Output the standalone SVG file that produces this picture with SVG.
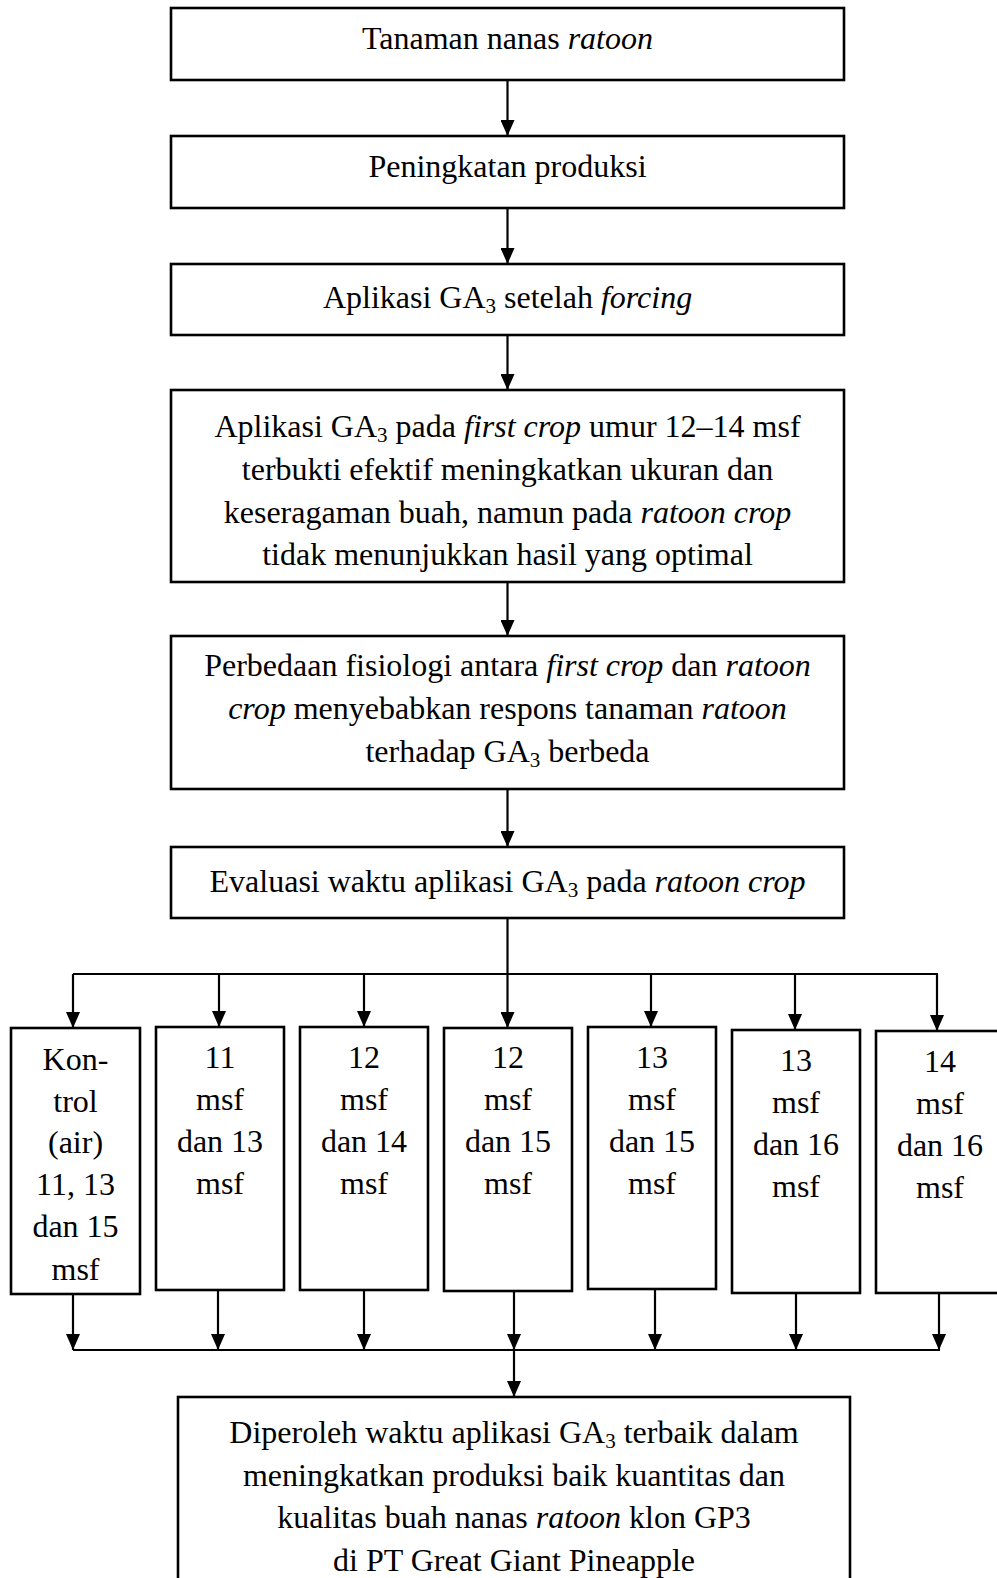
<svg xmlns="http://www.w3.org/2000/svg" width="997" height="1578" viewBox="0 0 997 1578">
<style>
.box{fill:#fff;stroke:#000;stroke-width:2.6}
.ln{fill:none;stroke:#000;stroke-width:2.2}
.t{font-family:"Liberation Serif","Times New Roman",serif;font-size:32px;fill:#000;text-anchor:middle}
.i{font-style:italic}
.s{font-size:21px}
</style>
<defs>
<marker id="ah" viewBox="0 0 16 14" refX="16" refY="7" markerWidth="16" markerHeight="14" markerUnits="userSpaceOnUse" orient="auto">
<path d="M0,0 L16,7 L0,14 z" fill="#000"/>
</marker>
</defs>
<rect width="997" height="1578" fill="#fff"/>
<g id="connectors">
<line class="ln" x1="507.5" y1="80" x2="507.5" y2="136" marker-end="url(#ah)"/>
<line class="ln" x1="507.5" y1="208" x2="507.5" y2="264" marker-end="url(#ah)"/>
<line class="ln" x1="507.5" y1="335" x2="507.5" y2="390" marker-end="url(#ah)"/>
<line class="ln" x1="507.5" y1="582" x2="507.5" y2="636" marker-end="url(#ah)"/>
<line class="ln" x1="507.5" y1="789" x2="507.5" y2="847" marker-end="url(#ah)"/>
<line class="ln" x1="507.5" y1="918" x2="507.5" y2="974"/>
<line class="ln" x1="73" y1="974" x2="938" y2="974"/>
<line class="ln" x1="73" y1="974" x2="73" y2="1028" marker-end="url(#ah)"/>
<line class="ln" x1="219" y1="974" x2="219" y2="1027" marker-end="url(#ah)"/>
<line class="ln" x1="364" y1="974" x2="364" y2="1027" marker-end="url(#ah)"/>
<line class="ln" x1="507.5" y1="974" x2="507.5" y2="1028" marker-end="url(#ah)"/>
<line class="ln" x1="651" y1="974" x2="651" y2="1027" marker-end="url(#ah)"/>
<line class="ln" x1="795" y1="974" x2="795" y2="1030" marker-end="url(#ah)"/>
<line class="ln" x1="937" y1="974" x2="937" y2="1031" marker-end="url(#ah)"/>
<line class="ln" x1="73" y1="1294" x2="73" y2="1350" marker-end="url(#ah)"/>
<line class="ln" x1="218" y1="1290" x2="218" y2="1350" marker-end="url(#ah)"/>
<line class="ln" x1="364" y1="1290" x2="364" y2="1350" marker-end="url(#ah)"/>
<line class="ln" x1="514" y1="1291" x2="514" y2="1350" marker-end="url(#ah)"/>
<line class="ln" x1="655" y1="1289" x2="655" y2="1350" marker-end="url(#ah)"/>
<line class="ln" x1="796" y1="1293" x2="796" y2="1350" marker-end="url(#ah)"/>
<line class="ln" x1="939" y1="1293" x2="939" y2="1350" marker-end="url(#ah)"/>
<line class="ln" x1="73" y1="1350" x2="940" y2="1350"/>
<line class="ln" x1="514" y1="1350" x2="514" y2="1397" marker-end="url(#ah)"/>
</g>
<g id="n1">
<rect class="box" x="171" y="8" width="673" height="72"/>
<text class="t" x="507.5" y="49">Tanaman nanas <tspan class="i">ratoon</tspan></text>
</g>
<g id="n2">
<rect class="box" x="171" y="136" width="673" height="72"/>
<text class="t" x="507.5" y="177">Peningkatan produksi</text>
</g>
<g id="n3">
<rect class="box" x="171" y="264" width="673" height="71"/>
<text class="t" x="507.5" y="308">Aplikasi GA<tspan class="s" dy="5">3</tspan><tspan dy="-5"> setelah </tspan><tspan class="i">forcing</tspan></text>
</g>
<g id="n4">
<rect class="box" x="171" y="390" width="673" height="192"/>
<text class="t" x="507.5" y="437">Aplikasi GA<tspan class="s" dy="5">3</tspan><tspan dy="-5"> pada </tspan><tspan class="i">first crop</tspan> umur 12–14 msf</text>
<text class="t" x="507.5" y="480">terbukti efektif meningkatkan ukuran dan</text>
<text class="t" x="507.5" y="523">keseragaman buah, namun pada <tspan class="i">ratoon crop</tspan></text>
<text class="t" x="507.5" y="565">tidak menunjukkan hasil yang optimal</text>
</g>
<g id="n5">
<rect class="box" x="171" y="636" width="673" height="153"/>
<text class="t" x="507.5" y="676">Perbedaan fisiologi antara <tspan class="i">first crop</tspan> dan <tspan class="i">ratoon</tspan></text>
<text class="t" x="507.5" y="719"><tspan class="i">crop</tspan> menyebabkan respons tanaman <tspan class="i">ratoon</tspan></text>
<text class="t" x="507.5" y="762">terhadap GA<tspan class="s" dy="5">3</tspan><tspan dy="-5"> berbeda</tspan></text>
</g>
<g id="n6">
<rect class="box" x="171" y="847" width="673" height="71"/>
<text class="t" x="507.5" y="892">Evaluasi waktu aplikasi GA<tspan class="s" dy="5">3</tspan><tspan dy="-5"> pada </tspan><tspan class="i">ratoon crop</tspan></text>
</g>
<g id="b1">
<rect class="box" x="11" y="1028" width="129" height="266"/>
<text class="t" x="75.5" y="1070">Kon-</text>
<text class="t" x="75.5" y="1112">trol</text>
<text class="t" x="75.5" y="1153">(air)</text>
<text class="t" x="75.5" y="1195">11, 13</text>
<text class="t" x="75.5" y="1237">dan 15</text>
<text class="t" x="75.5" y="1280">msf</text>
</g>
<g id="b2">
<rect class="box" x="156" y="1027" width="128" height="263"/>
<text class="t" x="220" y="1068">11</text>
<text class="t" x="220" y="1110">msf</text>
<text class="t" x="220" y="1152">dan 13</text>
<text class="t" x="220" y="1194">msf</text>
</g>
<g id="b3">
<rect class="box" x="300" y="1027" width="128" height="263"/>
<text class="t" x="364" y="1068">12</text>
<text class="t" x="364" y="1110">msf</text>
<text class="t" x="364" y="1152">dan 14</text>
<text class="t" x="364" y="1194">msf</text>
</g>
<g id="b4">
<rect class="box" x="444" y="1028" width="128" height="263"/>
<text class="t" x="508" y="1068">12</text>
<text class="t" x="508" y="1110">msf</text>
<text class="t" x="508" y="1152">dan 15</text>
<text class="t" x="508" y="1194">msf</text>
</g>
<g id="b5">
<rect class="box" x="588" y="1027" width="128" height="262"/>
<text class="t" x="652" y="1068">13</text>
<text class="t" x="652" y="1110">msf</text>
<text class="t" x="652" y="1152">dan 15</text>
<text class="t" x="652" y="1194">msf</text>
</g>
<g id="b6">
<rect class="box" x="732" y="1030" width="128" height="263"/>
<text class="t" x="796" y="1071">13</text>
<text class="t" x="796" y="1113">msf</text>
<text class="t" x="796" y="1155">dan 16</text>
<text class="t" x="796" y="1197">msf</text>
</g>
<g id="b7">
<rect class="box" x="876" y="1031" width="128" height="262"/>
<text class="t" x="940" y="1072">14</text>
<text class="t" x="940" y="1114">msf</text>
<text class="t" x="940" y="1156">dan 16</text>
<text class="t" x="940" y="1198">msf</text>
</g>
<g id="n7">
<rect class="box" x="178" y="1397" width="672" height="220"/>
<text class="t" x="514" y="1443">Diperoleh waktu aplikasi GA<tspan class="s" dy="5">3</tspan><tspan dy="-5"> terbaik dalam</tspan></text>
<text class="t" x="514" y="1486">meningkatkan produksi baik kuantitas dan</text>
<text class="t" x="514" y="1528">kualitas buah nanas <tspan class="i">ratoon</tspan> klon GP3</text>
<text class="t" x="514" y="1571">di PT Great Giant Pineapple</text>
</g>
</svg>
